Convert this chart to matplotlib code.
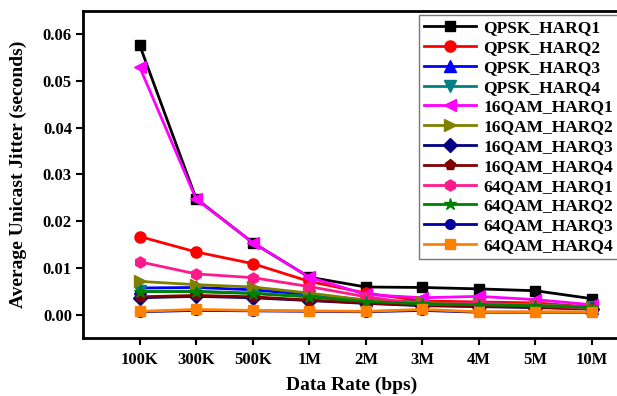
import matplotlib
matplotlib.use("Agg")
import matplotlib.pyplot as plt

categories = ["100K", "300K", "500K", "1M", "2M", "3M", "4M", "5M", "10M"]

series_names = ["QPSK_HARQ1", "QPSK_HARQ2", "QPSK_HARQ3", "QPSK_HARQ4",
                "16QAM_HARQ1", "16QAM_HARQ2", "16QAM_HARQ3", "16QAM_HARQ4",
                "64QAM_HARQ1", "64QAM_HARQ2", "64QAM_HARQ3", "64QAM_HARQ4"]

qpsk_harq1 = [0.0577, 0.0248, 0.0154, 0.0080, 0.0059, 0.0058, 0.0055, 0.0051, 0.0034]
qpsk_harq2 = [0.0167, 0.0134, 0.0109, 0.0071, 0.0046, 0.0029, 0.0027, 0.0025, 0.0016]
qpsk_harq3 = [0.0057, 0.0058, 0.0053, 0.0043, 0.0031, 0.0026, 0.0023, 0.0021, 0.0014]
qpsk_harq4 = [0.0050, 0.0050, 0.0046, 0.0039, 0.0028, 0.0024, 0.0022, 0.0020, 0.0017]
qam16_harq1 = [0.0530, 0.0247, 0.0154, 0.0080, 0.0043, 0.0036, 0.0039, 0.0032, 0.0021]
qam16_harq2 = [0.0071, 0.0064, 0.0059, 0.0046, 0.0031, 0.0026, 0.0023, 0.0021, 0.0015]
qam16_harq3 = [0.0036, 0.0039, 0.0036, 0.0030, 0.0024, 0.0019, 0.0017, 0.0015, 0.0012]
qam16_harq4 = [0.0038, 0.0041, 0.0038, 0.0031, 0.0025, 0.0020, 0.0018, 0.0016, 0.0012]
qam64_harq1 = [0.0113, 0.0087, 0.0079, 0.0060, 0.0038, 0.0022, 0.0024, 0.0020, 0.0013]
qam64_harq2 = [0.0049, 0.0049, 0.0045, 0.0038, 0.0028, 0.0023, 0.0021, 0.0019, 0.0015]
qam64_harq3 = [0.0006, 0.0009, 0.0008, 0.0007, 0.0006, 0.0009, 0.0005, 0.0005, 0.0005]
qam64_harq4 = [0.0007, 0.0011, 0.0009, 0.0008, 0.0007, 0.0011, 0.0006, 0.0006, 0.0006]

values = [qpsk_harq1, qpsk_harq2, qpsk_harq3, qpsk_harq4,
          qam16_harq1, qam16_harq2, qam16_harq3, qam16_harq4,
          qam64_harq1, qam64_harq2, qam64_harq3, qam64_harq4]

colors = ["#000000", "#ff0000", "#0000ff", "#008080",
          "#ff00ff", "#808000", "#000080", "#800000",
          "#ff1a8c", "#008000", "#0000a0", "#ff8000"]
markers = ["s", "o", "^", "v", "<", ">", "D", "p", "h", "*", "o", "s"]
msizes = [7, 8, 8, 8, 9, 9, 7, 8, 8, 9, 7, 7]

plt.rcParams['font.family'] = ['Liberation Serif', 'DejaVu Serif']
plt.rcParams['font.weight'] = 'bold'

fig = plt.figure(figsize=(6.17, 3.96), dpi=100)
ax = fig.add_axes([0.1345, 0.1465, 0.8700, 0.8255])

x = list(range(1, len(categories) + 1))
for name, vals, c, m, ms in zip(series_names, values, colors, markers, msizes):
    ax.plot(x, vals, color=c, marker=m, markersize=ms, linewidth=2,
            label=name, markeredgecolor=c)

ax.set_xlim(0, 9.49)
ax.set_ylim(-0.005, 0.0649)
ax.set_xticks(x)
ax.set_xticklabels(categories)
ax.set_yticks([0.0, 0.01, 0.02, 0.03, 0.04, 0.05, 0.06])
ax.set_yticklabels(["0.00", "0.01", "0.02", "0.03", "0.04", "0.05", "0.06"])
ax.tick_params(axis='both', direction='out', length=5, width=1.5, labelsize=12, pad=3)
ax.tick_params(axis='x', pad=5)
for lbl in ax.get_xticklabels() + ax.get_yticklabels():
    lbl.set_fontweight('bold')
for s in ax.spines.values():
    s.set_linewidth(2)

ax.set_xlabel("Data Rate (bps)", fontsize=14, fontweight='bold', labelpad=6)
ax.set_ylabel("Average Unicast Jitter (seconds)", fontsize=14, fontweight='bold', labelpad=11)

leg = ax.legend(loc='upper right', bbox_to_anchor=(0.997, 0.988),
                frameon=True, fancybox=False,
                edgecolor='#555555', handlelength=3.0, labelspacing=0.21,
                borderpad=0.3, handletextpad=0.4, borderaxespad=0.0,
                prop={'family': 'Liberation Serif', 'weight': 'bold', 'size': 12.5})
leg.get_frame().set_linewidth(1.0)

fig.savefig("out.png", dpi=100)
